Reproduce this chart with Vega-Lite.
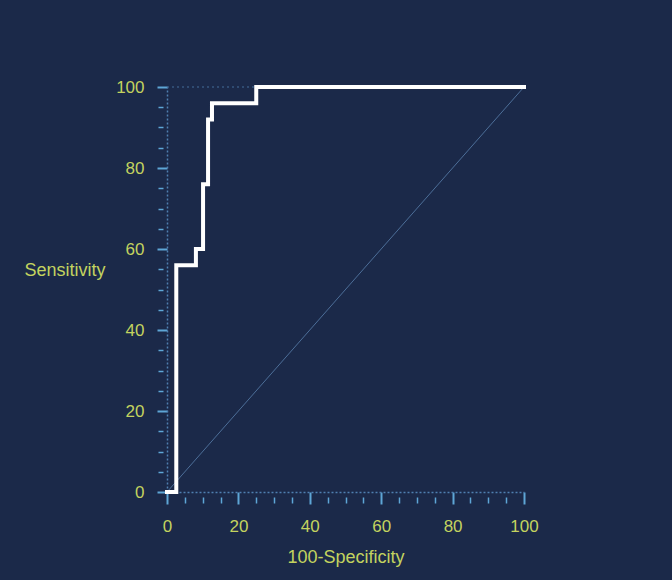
{
  "$schema": "https://vega.github.io/schema/vega-lite/v6.json",
  "width": 357,
  "height": 405,
  "autosize": {"type": "none"},
  "padding": {"left": 167, "top": 87, "right": 148, "bottom": 88},
  "background": "#1b2949",
  "config": {
    "view": {"stroke": null},
    "font": "Liberation Sans",
    "axis": {"grid": false}
  },
  "datasets": {
    "roc": [
      {"i": 0, "fpr": 0, "sens": 0},
      {"i": 1, "fpr": 2.6, "sens": 0},
      {"i": 2, "fpr": 2.6, "sens": 56},
      {"i": 3, "fpr": 8.1, "sens": 56},
      {"i": 4, "fpr": 8.1, "sens": 60},
      {"i": 5, "fpr": 10.1, "sens": 60},
      {"i": 6, "fpr": 10.1, "sens": 76},
      {"i": 7, "fpr": 11.5, "sens": 76},
      {"i": 8, "fpr": 11.5, "sens": 92},
      {"i": 9, "fpr": 12.6, "sens": 92},
      {"i": 10, "fpr": 12.6, "sens": 96},
      {"i": 11, "fpr": 25, "sens": 96},
      {"i": 12, "fpr": 25, "sens": 100},
      {"i": 13, "fpr": 100, "sens": 100}
    ],
    "diag": [
      {"fpr": 0, "sens": 0},
      {"fpr": 100, "sens": 100}
    ],
    "top": [{"sens": 100}]
  },
  "layer": [
    {
      "data": {"name": "top"},
      "mark": {"type": "rule", "color": "#4f7fb0", "strokeWidth": 1.2, "strokeDash": [2, 3], "opacity": 0.8},
      "encoding": {
        "y": {"field": "sens", "type": "quantitative", "scale": {"domain": [0, 100]}, "axis": null}
      }
    },
    {
      "data": {"name": "diag"},
      "mark": {"type": "line", "color": "#5d86b3", "strokeWidth": 1, "opacity": 0.75},
      "encoding": {
        "x": {
          "field": "fpr", "type": "quantitative", "scale": {"domain": [0, 100]},
          "axis": {
            "orient": "bottom",
            "values": [0, 20, 40, 60, 80, 100],
            "tickSize": 12, "tickWidth": 2, "tickColor": "#5ea6d6",
            "labelColor": "#c3d35f", "labelFontSize": 17, "labelPadding": 14, "labelFlush": false,
            "domainColor": "#4f7fb0", "domainDash": [2, 2], "domainWidth": 1.5,
            "title": "100-Specificity", "titleColor": "#c3d35f", "titleFontSize": 18,
            "titleFontWeight": "normal", "titleY": 65, "titleBaseline": "middle"
          }
        },
        "y": {
          "field": "sens", "type": "quantitative", "scale": {"domain": [0, 100]},
          "axis": {
            "orient": "left",
            "values": [0, 20, 40, 60, 80, 100],
            "tickSize": 10, "tickWidth": 2, "tickColor": "#5ea6d6",
            "labelColor": "#c3d35f", "labelFontSize": 17, "labelPadding": 13, "labelFlush": false,
            "domainColor": "#4f7fb0", "domainDash": [2, 2], "domainWidth": 1.5,
            "title": "Sensitivity", "titleColor": "#c3d35f", "titleFontSize": 18,
            "titleFontWeight": "normal", "titleAngle": 0, "titleAlign": "left",
            "titleBaseline": "middle", "titleX": -143, "titleY": 183
          }
        }
      }
    },
    {
      "data": {"name": "roc"},
      "mark": {"type": "line", "color": "#ffffff", "strokeWidth": 4, "strokeJoin": "miter", "strokeCap": "square"},
      "encoding": {
        "x": {
          "field": "fpr", "type": "quantitative", "scale": {"domain": [0, 100]},
          "axis": {
            "orient": "bottom",
            "values": [5, 10, 15, 25, 30, 35, 45, 50, 55, 65, 70, 75, 85, 90, 95],
            "offset": 5, "tickSize": 6, "tickWidth": 1.5, "tickColor": "#5ea6d6",
            "labels": false, "domain": false, "title": null
          }
        },
        "y": {
          "field": "sens", "type": "quantitative", "scale": {"domain": [0, 100]},
          "axis": {
            "orient": "left",
            "values": [5, 10, 15, 25, 30, 35, 45, 50, 55, 65, 70, 75, 85, 90, 95],
            "offset": 4, "tickSize": 5, "tickWidth": 1.5, "tickColor": "#5ea6d6",
            "labels": false, "domain": false, "title": null
          }
        },
        "order": {"field": "i", "type": "quantitative"}
      }
    }
  ],
  "resolve": {"axis": {"x": "independent", "y": "independent"}}
}
